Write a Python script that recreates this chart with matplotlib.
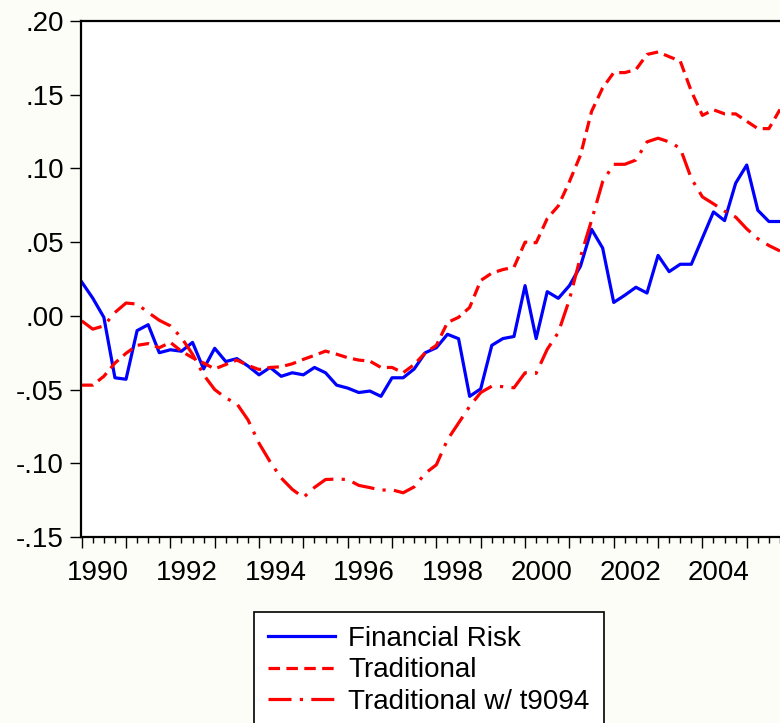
import matplotlib
matplotlib.use('Agg')
import matplotlib.pyplot as plt
import matplotlib.transforms as mtransforms
import numpy as np

plt.rcParams['font.family'] = ['Liberation Sans', 'DejaVu Sans']

# quarterly data, 1990Q1 .. 2005Q4
start_year = 1990
financial_risk = [
    0.023, 0.012, -0.001, -0.042,
    -0.043, -0.010, -0.006, -0.025,
    -0.023, -0.024, -0.018, -0.036,
    -0.022, -0.031, -0.029, -0.034,
    -0.040, -0.035, -0.041, -0.0386,
    -0.040, -0.035, -0.0386, -0.047,
    -0.049, -0.052, -0.051, -0.0546,
    -0.042, -0.042, -0.036, -0.025,
    -0.0216, -0.0125, -0.0155, -0.0546,
    -0.0495, -0.020, -0.0154, -0.014,
    0.0205, -0.0154, 0.0164, 0.0119,
    0.0205, 0.0337, 0.0587, 0.046,
    0.0091, 0.014, 0.0194, 0.0155,
    0.041, 0.030, 0.035, 0.035,
    0.0528, 0.0705, 0.0646, 0.090,
    0.1023, 0.0716, 0.064, 0.064,
]
traditional = [
    -0.047, -0.047, -0.041, -0.032,
    -0.0254, -0.020, -0.0188, -0.0216,
    -0.018, -0.024, -0.0284, -0.032,
    -0.036, -0.033, -0.030, -0.0336,
    -0.0364, -0.035, -0.0345, -0.0325,
    -0.0295, -0.0268, -0.0239, -0.026,
    -0.0284, -0.030, -0.0307, -0.035,
    -0.035, -0.0386, -0.033, -0.025,
    -0.020, -0.0045, -0.001, 0.0057,
    0.024, 0.029, 0.0314, 0.033,
    0.050, 0.0496, 0.066, 0.0746,
    0.091, 0.109, 0.1387, 0.1546,
    0.165, 0.165, 0.167, 0.1773,
    0.179, 0.1758, 0.1728, 0.1524,
    0.136, 0.1398, 0.137, 0.137,
    0.132, 0.127, 0.127, 0.140,
]
traditional_t9094 = [
    -0.0034, -0.009, -0.0068, 0.0023,
    0.0087, 0.008, 0.0023, -0.003,
    -0.0068, -0.0148, -0.026, -0.040,
    -0.050, -0.0557, -0.0596, -0.0705,
    -0.0864, -0.099, -0.110, -0.1177,
    -0.1232, -0.1164, -0.111, -0.1107,
    -0.111, -0.1150, -0.1165, -0.1182,
    -0.1180, -0.120, -0.116, -0.1068,
    -0.101, -0.084, -0.0727, -0.0614,
    -0.052, -0.0477, -0.048, -0.0488,
    -0.0386, -0.039, -0.0227, -0.0113,
    0.011, 0.040, 0.0648, 0.091,
    0.1028, 0.1028, 0.1057, 0.118,
    0.1205, 0.118, 0.1137, 0.0932,
    0.0807, 0.076, 0.071, 0.067,
    0.059, 0.0523, 0.0477, 0.044,
]
year_labels = ['1990', '1992', '1994', '1996', '1998', '2000', '2002', '2004']
y_ticks = [-0.15, -0.10, -0.05, 0.00, 0.05, 0.10, 0.15, 0.20]
y_labels = ['-.15', '-.10', '-.05', '.00', '.05', '.10', '.15', '.20']

t = start_year + np.arange(len(financial_risk)) / 4.0

W, H = 780, 723
fig = plt.figure(figsize=(W / 100, H / 100), dpi=100, facecolor='#fdfdf8')
ax = fig.add_axes([80.5 / W, (H - 537) / H, (W - 80.5) / W, 516 / H])
ax.set_facecolor('white')

ax.plot(t, financial_risk, color='#0000ff', lw=2.3, label='Financial Risk')
ax.plot(t, traditional, color='#ff0000', lw=2.3, dashes=(3.6, 2.0),
        label='Traditional')
ax.plot(t, traditional_t9094, color='#ff0000', lw=2.3,
        dashes=(7.2, 2.6, 1.0, 2.6), label='Traditional w/ t9094')

x_right = start_year + (W - 81.7) / 44.85
ax.set_xlim(start_year - 1.2 / 44.85, x_right)
ax.set_ylim(-0.15, 0.20)

for s in ['left', 'top', 'bottom']:
    ax.spines[s].set_linewidth(1.6)
ax.spines['right'].set_visible(False)

ax.set_yticks(y_ticks, y_labels)
ax.tick_params(axis='y', direction='out', length=8, width=1.0, pad=4,
               labelsize=20)

ax.set_xticks(np.arange(start_year, 2006), [''] * 16)
ax.set_xticks(np.arange(start_year, 2006, 0.25), minor=True)
ax.tick_params(axis='x', which='major', direction='out', length=8, width=1.0)
ax.tick_params(axis='x', which='minor', direction='out', length=4, width=1.0)

trans = mtransforms.blended_transform_factory(ax.transData, ax.transAxes)
for lab in year_labels:
    ax.text(int(lab) + 0.37, -0.044, lab, transform=trans, ha='center',
            va='top', fontsize=20)

leg = fig.legend(loc='upper left', bbox_to_anchor=(254 / W, 1 - 612 / H),
                 fontsize=20, handlelength=2.4, handletextpad=0.5,
                 labelspacing=0.2, borderpad=0.5, borderaxespad=0,
                 fancybox=False, framealpha=1, edgecolor='black')
leg.get_frame().set_linewidth(1.2)

fig.savefig('out.png', dpi=100, facecolor=fig.get_facecolor())
